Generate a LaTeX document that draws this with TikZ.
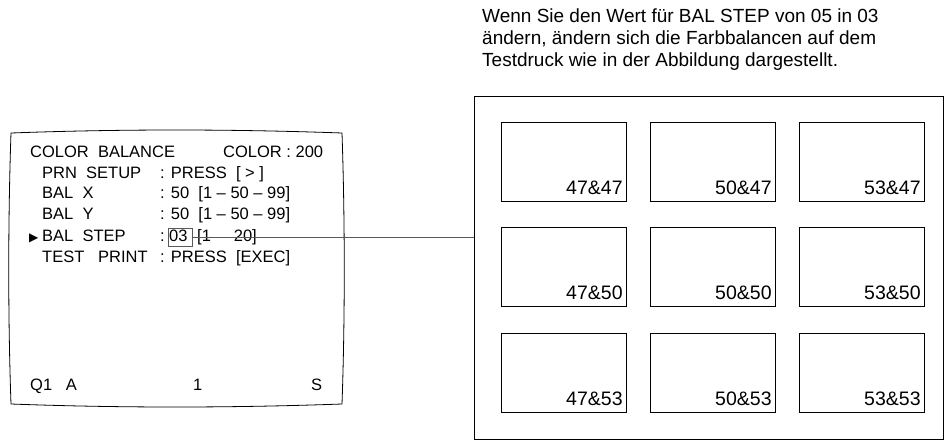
\documentclass[tikz,border=0pt]{standalone}
\usepackage{fontspec}
\setmainfont{Liberation Sans}
\begin{document}
\begin{tikzpicture}[x=1pt,y=-1pt,
  scr/.style={anchor=base west,inner sep=0pt,font=\fontsize{16.5}{17}\selectfont},
  lbl/.style={anchor=base east,inner sep=0pt,font=\fontsize{19.5}{20}\selectfont},
  pbox/.style={draw,line width=0.8pt,minimum width=125pt,minimum height=79pt,anchor=north west,inner sep=0pt}]
\useasboundingbox (0,0) rectangle (951,445);
% header
\node[anchor=north west,inner sep=0pt,align=left,font=\fontsize{19}{22}\selectfont] (hdr) at (482,9)
 {Wenn Sie den Wert für BAL STEP von 05 in 03\\ändern, ändern sich die Farbbalancen auf dem\\Testdruck wie in der Abbildung dargestellt.};
% screen
\draw[line width=0.8pt] (11,133) .. controls (120,129) and (230,129) .. (342,133)
  .. controls (345,220) and (345,320) .. (342,404)
  .. controls (230,408) and (120,408) .. (11,404)
  .. controls (8,320) and (8,220) .. (11,133) -- cycle;
\node[scr] (t1) at (30,157) {COLOR\ \ BALANCE};
\node[scr] (t1b) at (223,157) {COLOR : 200};
\node[scr] (t2) at (42,178) {PRN\ \ SETUP};
\node[scr] (t2b) at (160,178) {: PRESS\ \ [ > ]};
\node[scr] (t3) at (42,198) {BAL\ \ X};
\node[scr] (t3b) at (160,198) {: 50\ \ [1 – 50 – 99]};
\node[scr] (t4) at (42,219) {BAL\ \ Y};
\node[scr] (t4b) at (160,219) {: 50\ \ [1 – 50 – 99]};
\node[scr] (t5a) at (29,241) {\fontspec{DejaVu Sans}\fontsize{12}{12}\selectfont ▶};
\node[scr] (t5) at (42,241) {BAL\ \ STEP};
\node[scr] (t5b) at (160,241) {:};
\node[scr] (v03) at (169,241) {03};
\node[scr] (t5c) at (197,241) {[1\ \ \ \ \ 20]};
\node[scr] (t6) at (42,262) {TEST\ \ \ PRINT};
\node[scr] (t6b) at (160,262) {: PRESS\ \ [EXEC]};
\node[scr] (q1) at (30,390) {Q1\ \ \ A};
\node[scr] (one) at (193,390) {1};
\node[scr] (s) at (311,390) {S};
\draw[gray!70!black,line width=1pt] (168,228) rectangle (192,246);
% print sheet
\node[draw,line width=1pt,minimum width=469pt,minimum height=343pt,anchor=north west,inner sep=0pt] (sheet) at (474,96) {};
\coordinate (hit) at (474,237);
\draw[gray!70!black,line width=1pt] (192,237) -- (hit);
\foreach \c/\x/\a in {0/501/47,1/650/50,2/799/53}{
  \foreach \r/\y/\b in {0/122/47,1/227/50,2/333/53}{
    \node[pbox] (p\c\r) at (\x,\y) {};
    \node[lbl] at ([xshift=-4pt,yshift=7pt]p\c\r.south east) {\a\&\b};
  }
}
\end{tikzpicture}
\end{document}
